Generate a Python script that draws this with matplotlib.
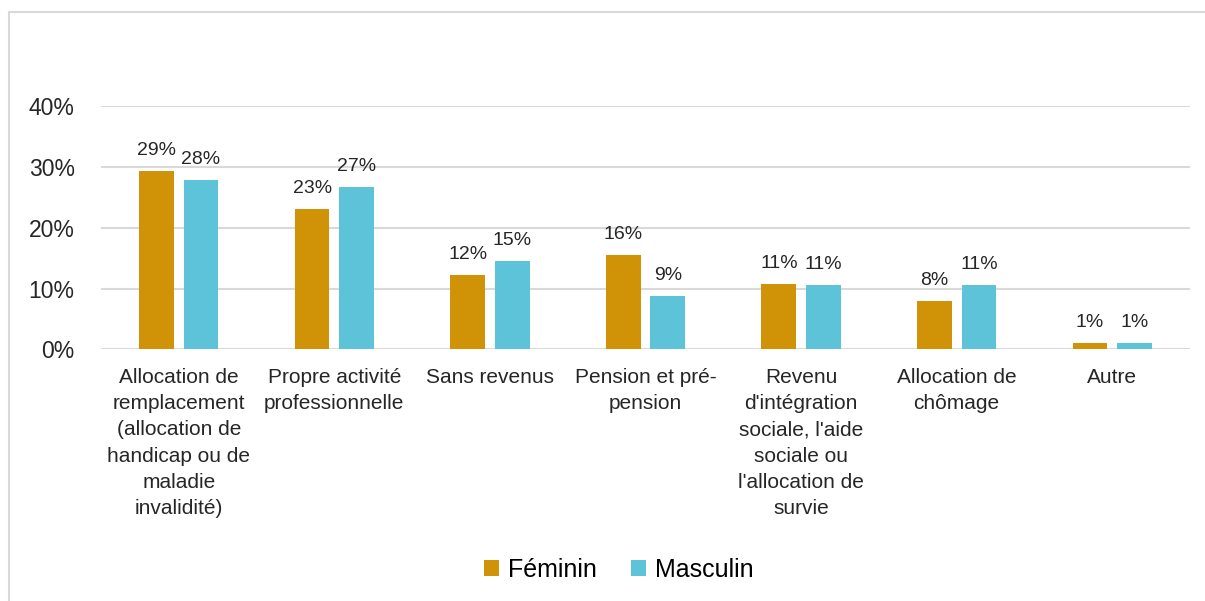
import matplotlib.pyplot as plt
import numpy as np

plt.rcParams['font.family'] = ['Liberation Sans', 'DejaVu Sans']

# data
categories = ["Allocation de\nremplacement\n(allocation de\nhandicap ou de\nmaladie\ninvalidité)",
              "Propre activité\nprofessionnelle",
              "Sans revenus",
              "Pension et pré-\npension",
              "Revenu\nd'intégration\nsociale, l'aide\nsociale ou\nl'allocation de\nsurvie",
              "Allocation de\nchômage",
              "Autre"]
feminin = [29.3, 23.1, 12.2, 15.6, 10.7, 7.9, 1.0]
masculin = [27.8, 26.7, 14.6, 8.7, 10.6, 10.6, 1.0]
yticks = [0, 10, 20, 30, 40]

col_f = '#D09206'
col_m = '#5CC3D8'
grid_col = '#D9D9D9'

fig = plt.figure(figsize=(12.05, 6.01), dpi=100)
ax = fig.add_axes([101/1205, 1-349.3/601, 1089/1205, 243/601])

# frame of the chart area (cut off right and bottom)
fig.patches.append(plt.Rectangle((9/1205, -0.2), 1.2, 1.2 + (1-12/601) - 1.0,
                                 transform=fig.transFigure, fill=False,
                                 edgecolor=grid_col, linewidth=1.5))

x = np.arange(len(categories))
w = 0.223
off = 0.143
b1 = ax.bar(x-off, feminin, w, color=col_f, label='Féminin', zorder=3)
b2 = ax.bar(x+off, masculin, w, color=col_m, label='Masculin', zorder=3)

for bars, vals in ((b1, feminin), (b2, masculin)):
    for b, v in zip(bars, vals):
        ax.annotate(f"{v:.0f}%", (b.get_x()+b.get_width()/2, v),
                    xytext=(0, 11.5), textcoords='offset points',
                    ha='center', va='baseline', fontsize=14, color='#262626')

ax.set_xlim(-0.5, len(categories)-0.5)
ax.set_ylim(0, 40)
ax.set_yticks(yticks)
ax.set_yticklabels([f"{t}%" for t in yticks], fontsize=16.5, color='#262626')
ax.set_xticks(x)
ax.set_xticklabels(categories, fontsize=15, color='#262626', linespacing=1.48)
ax.tick_params(axis='y', length=0, pad=19)
ax.tick_params(axis='x', length=0, pad=13.5)
ax.yaxis.grid(True, color=grid_col, linewidth=1.5, zorder=0)
ax.set_axisbelow(True)
for s in ax.spines.values():
    s.set_visible(False)

fig.legend(handles=[b1, b2], loc='center', bbox_to_anchor=(619/1205, 1-570/601),
           ncol=2, frameon=False, fontsize=18, handlelength=0.6, handleheight=0.6,
           handletextpad=0.38, columnspacing=1.35)

fig.savefig('out.png', dpi=100, facecolor='white')
